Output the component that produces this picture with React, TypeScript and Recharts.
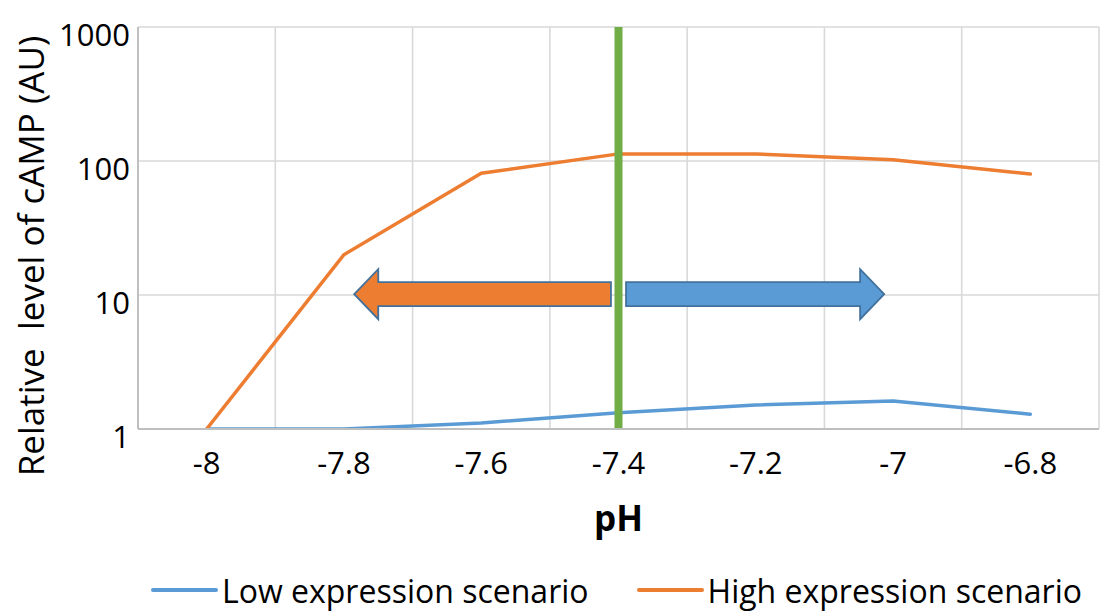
import {
  LineChart,
  Line,
  XAxis,
  YAxis,
  CartesianGrid,
  ReferenceLine,
  ReferenceArea,
  Legend,
} from 'recharts'

// pH values on the x axis and the two simulated cAMP curves
const phValues = [-8, -7.8, -7.6, -7.4, -7.2, -7, -6.8]
const lowExpression = [1, 1, 1.11, 1.32, 1.51, 1.62, 1.29]
const highExpression = [1, 20, 81, 113, 113, 102, 80]
const seriesKeys = ['low', 'high']
const seriesNames = ['Low expression scenario', 'High expression scenario']

const yTicks = [1, 10, 100, 1000]
// Excel-style category boundaries, used only for the vertical grid
const gridTicks = [-7.9, -7.7, -7.5, -7.3, -7.1, -6.9, -6.7]
const xDomain = [-8.1, -6.7]

const thresholdPH = -7.4
// arrow annotations either side of the threshold (pH from / to, AU low / high)
const leftArrow = [-7.785, -7.411, 6.6, 15.6]
const rightArrow = [-7.389, -7.013, 6.6, 15.6]

const data = phValues.map((ph, i) => ({
  ph,
  low: lowExpression[i],
  high: highExpression[i],
}))

const BLUE = '#5B9BD5'
const ORANGE = '#ED7D31'
const GREEN = '#70AD47'
const FONT = '"Open Sans", Lato, sans-serif'

function Arrow(props: any) {
  const { x, y, width, height, dir, fill } = props
  const head = height * 0.48
  const top = y + height * 0.26
  const bot = y + height * 0.74
  const mid = y + height / 2
  let pts: number[][]
  if (dir === 'left') {
    pts = [
      [x, mid],
      [x + head, y],
      [x + head, top],
      [x + width, top],
      [x + width, bot],
      [x + head, bot],
      [x + head, y + height],
    ]
  } else {
    const r = x + width
    pts = [
      [r, mid],
      [r - head, y],
      [r - head, top],
      [x, top],
      [x, bot],
      [r - head, bot],
      [r - head, y + height],
    ]
  }
  return (
    <polygon
      points={pts.map((p) => p.join(',')).join(' ')}
      fill={fill}
      stroke="#41719C"
      strokeWidth={1.8}
    />
  )
}

function YTick(props: any) {
  const { x, y, payload } = props
  return (
    <text x={x} y={y + 7} textAnchor="end" dominantBaseline="central" fontSize={31} fill="#000" fontFamily={FONT}>
      {payload.value}
    </text>
  )
}

function YTitle(props: any) {
  const vb = props.viewBox
  const cx = 30
  const cy = vb.y + vb.height / 2 + 28
  return (
    <text
      x={cx}
      y={cy}
      transform={`rotate(-90 ${cx} ${cy})`}
      textAnchor="middle"
      dominantBaseline="central"
      fontSize={35}
      fill="#000"
      fontFamily={FONT}
    >
      Relative&#160; level of cAMP (AU)
    </text>
  )
}

function LegendBox(props: any) {
  const payload = props.payload || []
  const items = seriesKeys.map((k) => payload.find((p: any) => p.dataKey === k)).filter(Boolean)
  return (
    <div
      style={{
        display: 'flex',
        justifyContent: 'center',
        alignItems: 'center',
        height: 40,
        paddingLeft: 134,
        fontFamily: FONT,
        fontSize: 32,
        color: '#000',
        whiteSpace: 'nowrap',
      }}
    >
      {items.map((it: any, i: number) => (
        <div key={i} style={{ display: 'flex', alignItems: 'center', marginLeft: i ? 48 : 0 }}>
          <span
            style={{
              display: 'inline-block',
              width: 67,
              height: 4,
              borderRadius: 2,
              background: it.color,
              marginRight: 4,
            }}
          />
          <span>{it.value}</span>
        </div>
      ))}
    </div>
  )
}

export default function App() {
  return (
    <div style={{ position: 'absolute', left: 0, top: 0, fontFamily: FONT }}>
      <LineChart width={1103} height={616} data={data} margin={{ top: 27, right: 4, bottom: 6, left: 0 }}>
        <CartesianGrid xAxisId="grid" stroke="#D9D9D9" strokeWidth={1.6} />
        <XAxis
          dataKey="ph"
          type="number"
          domain={xDomain}
          ticks={phValues}
          tickFormatter={(v: number) => String(v)}
          tickSize={0}
          tickMargin={23}
          tick={{ fontSize: 31, fill: '#000', fontFamily: FONT }}
          axisLine={{ stroke: '#BFBFBF', strokeWidth: 2 }}
          height={141}
          label={{
            value: 'pH',
            position: 'insideBottom',
            offset: 39,
            fontSize: 35,
            fontWeight: 700,
            fill: '#000',
            fontFamily: FONT,
          }}
        />
        <XAxis xAxisId="grid" dataKey="ph" type="number" domain={xDomain} ticks={gridTicks} hide />
        <YAxis
          scale="log"
          type="number"
          domain={[1, 1000]}
          ticks={yTicks}
          allowDataOverflow
          width={138}
          tickSize={0}
          tickMargin={8}
          tick={<YTick />}
          axisLine={{ stroke: '#BFBFBF', strokeWidth: 2 }}
          label={<YTitle />}
        />
        <Legend verticalAlign="bottom" content={<LegendBox />} />
        <Line
          dataKey={seriesKeys[0]}
          name={seriesNames[0]}
          stroke={BLUE}
          strokeWidth={3.5}
          strokeLinecap="round"
          strokeLinejoin="round"
          dot={false}
          type="linear"
          isAnimationActive={false}
        />
        <Line
          dataKey={seriesKeys[1]}
          name={seriesNames[1]}
          stroke={ORANGE}
          strokeWidth={3.5}
          strokeLinecap="round"
          strokeLinejoin="round"
          dot={false}
          type="linear"
          isAnimationActive={false}
        />
        <ReferenceArea
          x1={leftArrow[0]}
          x2={leftArrow[1]}
          y1={leftArrow[2]}
          y2={leftArrow[3]}
          shape={(p: any) => <Arrow {...p} dir="left" fill={ORANGE} />}
        />
        <ReferenceArea
          x1={rightArrow[0]}
          x2={rightArrow[1]}
          y1={rightArrow[2]}
          y2={rightArrow[3]}
          shape={(p: any) => <Arrow {...p} dir="right" fill={BLUE} />}
        />
        <ReferenceLine x={thresholdPH} stroke={GREEN} strokeWidth={8} />
      </LineChart>
    </div>
  )
}
